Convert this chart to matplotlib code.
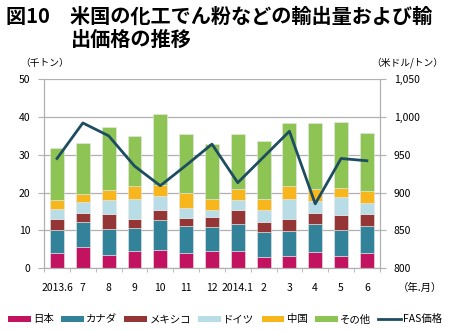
import numpy as np
import matplotlib.pyplot as plt
from matplotlib.lines import Line2D
from matplotlib.patches import Patch

plt.rcParams['font.family'] = ['Noto Sans CJK JP', 'DejaVu Sans']

months = ['2013.6', '7', '8', '9', '10', '11', '12', '2014.1', '2', '3', '4', '5', '6']

# 国別輸出量（千トン）
japan   = [4.1, 5.6, 3.4, 4.5, 4.9, 4.0, 4.5, 4.5, 2.9, 3.2, 4.2, 3.2, 4.1]
canada  = [6.0, 6.6, 6.9, 6.0, 7.9, 7.1, 6.3, 7.1, 6.6, 6.7, 7.4, 6.8, 7.0]
mexico  = [3.0, 2.5, 4.0, 2.6, 2.6, 2.2, 2.6, 3.7, 2.8, 3.1, 3.0, 4.0, 3.2]
germany = [2.6, 2.9, 3.8, 5.2, 3.7, 2.7, 1.9, 2.8, 3.0, 5.4, 3.2, 4.9, 2.9]
china   = [2.4, 1.9, 2.5, 3.5, 2.8, 3.9, 3.0, 2.7, 3.0, 3.2, 3.0, 2.4, 3.3]
others  = [13.8, 13.7, 16.6, 13.1, 18.8, 15.5, 14.5, 14.6, 15.3, 16.8, 17.6, 17.3, 15.2]

# FAS価格（米ドル/トン）
fas = [945, 992, 975, 935, 909, 936, 964, 913, 947, 981, 885, 945, 942]

series = [
    ('日本', japan, '#C1135F'),
    ('カナダ', canada, '#32829A'),
    ('メキシコ', mexico, '#933635'),
    ('ドイツ', germany, '#B8DDE6'),
    ('中国', china, '#F7B71C'),
    ('その他', others, '#8DC453'),
]
line_color = '#1E4D61'

fig = plt.figure(figsize=(4.5, 3.31), dpi=100)
ax = fig.add_axes([0.098, 0.19, 0.746, 0.571])
ax2 = ax.twinx()

x = np.arange(len(months))
bottom = np.zeros(len(months))
for name, vals, color in series:
    ax.bar(x, vals, width=0.54, bottom=bottom, color=color,
           edgecolor='#e8e8e8', linewidth=0.4, zorder=2)
    bottom += np.array(vals)

ax2.plot(x, fas, color=line_color, linewidth=2.0, zorder=3)

ax.set_xlim(-0.5, len(months) - 0.5)
ax.set_ylim(0, 50)
ax.set_yticks(range(0, 51, 10))
ax2.set_ylim(800, 1050)
ax2.set_yticks(range(800, 1051, 50))
ax2.set_yticklabels([f'{v:,}' for v in range(800, 1051, 50)])

ax.yaxis.grid(True, color='#b0b0b0', linewidth=0.9, zorder=0)
ax.set_axisbelow(True)

ax.set_xticks(x)
ax.set_xticklabels(months)
ax.set_xticks(np.arange(-0.5, len(months)), minor=True)
ax.tick_params(axis='x', which='major', length=0, pad=11, labelsize=7.5)
ax.tick_params(axis='x', which='minor', length=3, color='#b0b0b0')
ax.tick_params(axis='y', length=4, color='#b0b0b0', labelsize=7.5, pad=6)
ax2.tick_params(axis='y', length=4, color='#b0b0b0', labelsize=7.5, pad=6)

for a in (ax, ax2):
    a.spines['top'].set_visible(False)
    for s in ('left', 'right', 'bottom'):
        a.spines[s].set_color('#b0b0b0')

fig.text(0.014, 0.952, '図10　米国の化工でん粉などの輸出量および輸',
         fontsize=14.5, fontweight='bold', va='center')
fig.text(0.158, 0.882, '出価格の推移',
         fontsize=14.5, fontweight='bold', va='center')
fig.text(0.045, 0.81, '（千トン）', fontsize=7, va='center')
fig.text(0.825, 0.81, '（米ドル/トン）', fontsize=7, va='center')
fig.text(0.885, 0.13, '（年.月）', fontsize=7.5, va='center')

handles = [Patch(facecolor=c, label=n) for n, _, c in series]
handles.append(Line2D([0], [0], color=line_color, linewidth=2, label='FAS価格'))
fig.legend(handles=handles, loc='center', bbox_to_anchor=(0.5, 0.035), ncol=7,
           frameon=False, fontsize=7.5, handlelength=2.2, handleheight=0.5,
           handletextpad=0.2, columnspacing=0.7)

fig.savefig('out.png', dpi=100)
